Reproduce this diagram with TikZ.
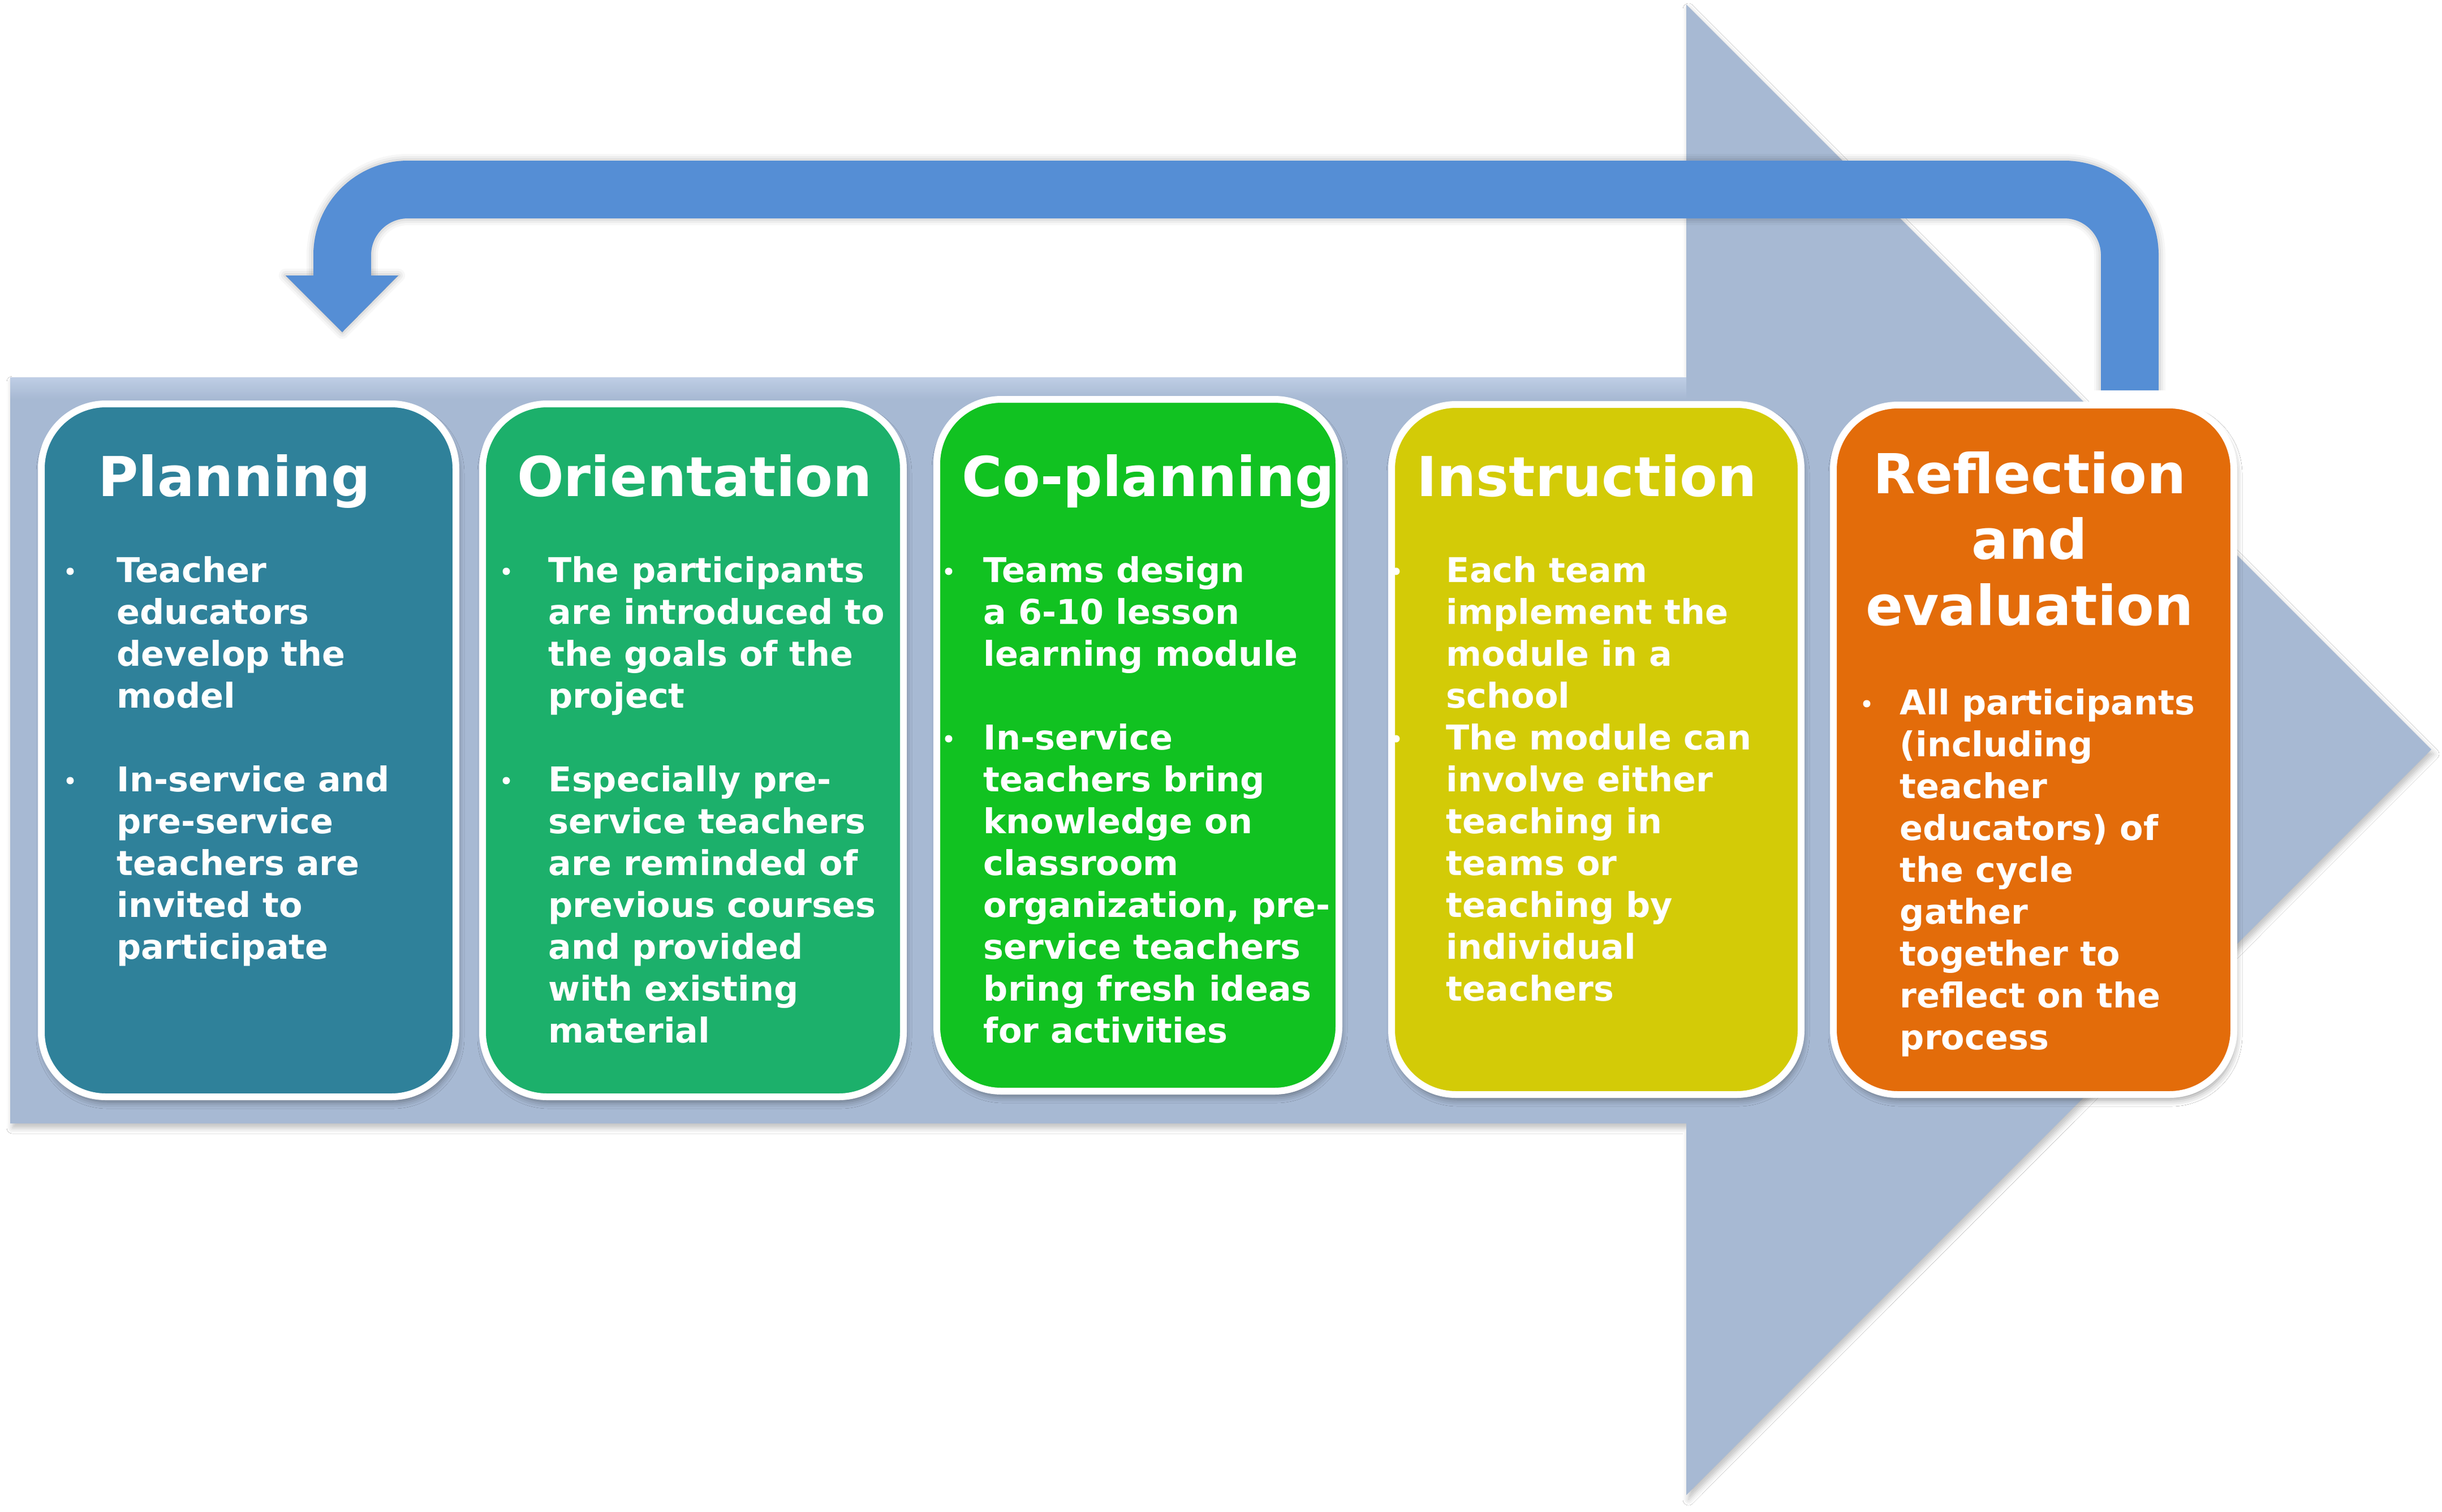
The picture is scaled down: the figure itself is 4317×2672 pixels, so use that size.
\documentclass[tikz,border=0pt]{standalone}
\usepackage{fontspec}
\setmainfont{DejaVu Sans}
\usetikzlibrary{shadows.blur}
\definecolor{arrowgray}{HTML}{A7B9D3}
\definecolor{arrowlight}{HTML}{BFCEE5}
\definecolor{loopblue}{HTML}{558ED5}
\definecolor{cPlan}{HTML}{2F819A}
\definecolor{cOrient}{HTML}{1CB06B}
\definecolor{cCoplan}{HTML}{11C221}
\definecolor{cInstr}{HTML}{D3CB07}
\definecolor{cRefl}{HTML}{E36C0A}
\newcommand\bulletdot[2]{\fill[white] (#1,{#2-19}) circle (6.5);}
\begin{document}
\begin{tikzpicture}[x=0.1mm, y=-0.1mm,
  card/.style={draw=white, line width=1.2mm, rounded corners=11.4mm,
    inner sep=0pt, outer sep=0pt,
    blur shadow={shadow xshift=0.3mm, shadow yshift=-0.9mm,
      shadow blur radius=1.2mm, shadow opacity=40}},
  ttl/.style={font=\bfseries\fontsize{27.7}{33}\selectfont, text=white,
    inner sep=0pt, anchor=base},
  bodytxt/.style={font=\bfseries\fontsize{17.2}{21}\selectfont, text=white,
    inner sep=0pt, anchor=base west}]
\useasboundingbox (0,0) rectangle (4317,2672);
\fill[white] (0,0) rectangle (4317,2672);

% big background arrow
\fill[arrowgray, blur shadow={shadow xshift=0.4mm, shadow yshift=-0.8mm,
    shadow blur radius=1mm, shadow opacity=25}]
  (18,667) -- (2981,667) -- (2981,8) -- (4298,1325) -- (2981,2643)
  -- (2981,1986) -- (18,1986) -- cycle;
\shade[top color=arrowlight, bottom color=arrowgray]
  (18,667) rectangle (2981,705);

% loop arrow (from Reflection back to Planning)
\coordinate (loopstart) at (3765,690);
\coordinate (loopright) at (3765,335);
\coordinate (loopleft) at (605,335);
\coordinate (loopend) at (605,490);
\coordinate (headL) at (505,487);
\coordinate (headR) at (704,487);
\coordinate (headT) at (605,587);
\begin{scope}[xshift=0.6mm, yshift=-0.9mm]
  \foreach \w/\e/\o in {10.2mm/0mm/0.07, 11.0mm/0.8mm/0.05, 11.8mm/1.6mm/0.04, 12.6mm/2.4mm/0.03}{
    \draw[black, opacity=\o, line width=\w, rounded corners=11.6mm]
      (loopstart) -- (loopright) -- (loopleft) -- (loopend);
    \filldraw[black, opacity=\o, line width=\e, line join=round]
      (headL) -- (headR) -- (headT) -- cycle;
  }
\end{scope}
\draw[loopblue, line width=10.2mm, rounded corners=11.6mm]
  (loopstart) -- (loopright) -- (loopleft) -- (loopend);
\fill[loopblue] (headL) -- (headR) -- (headT) -- cycle;

% cards
\node[card, fill=cPlan, minimum width=73.3mm, minimum height=122.5mm] (card1) at (439.5,1326.5) {};
\node[card, fill=cOrient, minimum width=74.4mm, minimum height=122.5mm] (card2) at (1225,1326.5) {};
\node[card, fill=cCoplan, minimum width=71.1mm, minimum height=122.3mm] (card3) at (2011.5,1317.5) {};
\node[card, fill=cInstr, minimum width=72.4mm, minimum height=122.0mm] (card4) at (2822,1325) {};
\node[card, fill=cRefl, minimum width=70.8mm, minimum height=121.9mm] (card5) at (3595,1325.5) {};

% titles
\node[ttl] (t1) at (414,877) {Planning};
\node[ttl] (t2) at (1228,877) {Orientation};
\node[ttl] (t3) at (2030,877) {Co-planning};
\node[ttl] (t4) at (2805,877) {Instruction};
\node[ttl] (t5a) at (3588,872) {Reflection};
\node[ttl] (t5b) at (3588,988) {and};
\node[ttl] (t5c) at (3588,1105) {evaluation};

% card 1 text
\bulletdot{124}{1029}
\bulletdot{124}{1399}
\foreach \l [count=\i from 0] in {Teacher, educators, develop the, model}
  \node[bodytxt] (pa\i) at (206,{1029+74*\i}) {\l};
\foreach \l [count=\i from 0] in {In-service and, pre-service, teachers are, invited to, participate}
  \node[bodytxt] (pb\i) at (206,{1399+74*\i}) {\l};

% card 2 text
\bulletdot{895}{1029}
\bulletdot{895}{1399}
\foreach \l [count=\i from 0] in {The participants, are introduced to, the goals of the, project}
  \node[bodytxt] (oa\i) at (969,{1029+74*\i}) {\l};
\foreach \l [count=\i from 0] in {Especially pre-, service teachers, are reminded of, previous courses, and provided, with existing, material}
  \node[bodytxt] (ob\i) at (969,{1399+74*\i}) {\l};

% card 3 text
\bulletdot{1677}{1029}
\bulletdot{1677}{1325}
\foreach \l [count=\i from 0] in {Teams design, a 6-10 lesson, learning module}
  \node[bodytxt] (ca\i) at (1738,{1029+74*\i}) {\l};
\foreach \l [count=\i from 0] in {In-service, teachers bring, knowledge on, classroom, {organization, pre-}, service teachers, bring fresh ideas, for activities}
  \node[bodytxt] (cb\i) at (1738,{1325+74*\i}) {\l};

% card 4 text
\bulletdot{2468}{1029}
\bulletdot{2468}{1325}
\foreach \l [count=\i from 0] in {Each team, implement the, module in a, school}
  \node[bodytxt] (ia\i) at (2556,{1029+74*\i}) {\l};
\foreach \l [count=\i from 0] in {The module can, involve either, teaching in, teams or, teaching by, individual, teachers}
  \node[bodytxt] (ib\i) at (2556,{1325+74*\i}) {\l};

% card 5 text
\bulletdot{3300}{1263}
\foreach \l [count=\i from 0] in {All participants, {(including}, teacher, {educators) of}, the cycle, gather, together to, reflect on the, process}
  \node[bodytxt] (ra\i) at (3358,{1263+74*\i}) {\l};
\end{tikzpicture}
\end{document}
